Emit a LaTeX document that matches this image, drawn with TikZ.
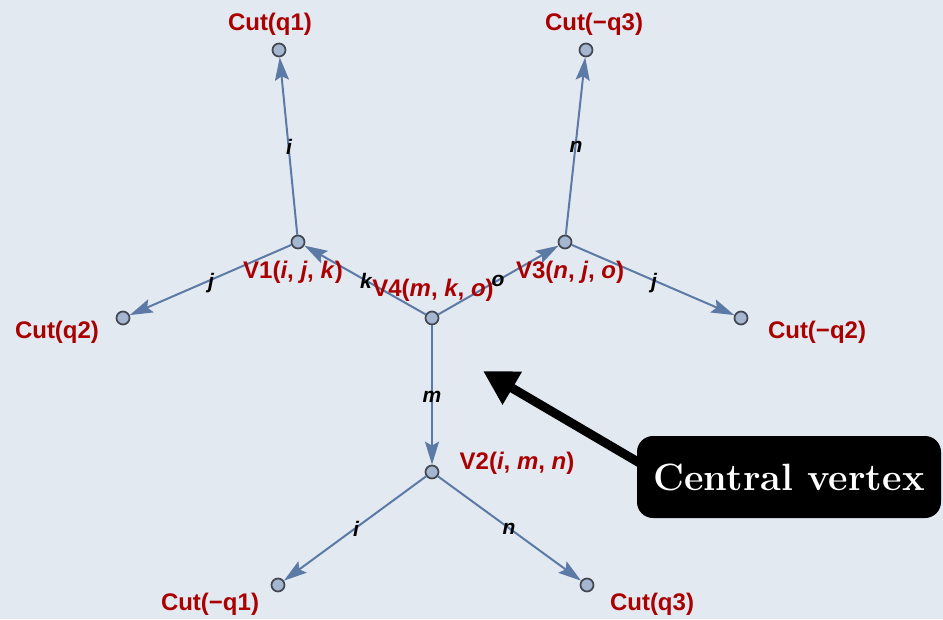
\documentclass[tikz,border=0pt]{standalone}
\usepackage{fontspec}
\newfontfamily\lab{Liberation Sans}
\usetikzlibrary{arrows.meta}
\definecolor{bg}{RGB}{227,233,241}
\definecolor{edgec}{RGB}{92,122,166}
\definecolor{vfill}{RGB}{165,182,208}
\definecolor{vdraw}{RGB}{65,70,80}
\definecolor{lred}{RGB}{170,0,0}
\begin{document}
\begin{tikzpicture}[x=1pt,y=-1pt,
 vtx/.style={circle,draw=vdraw,fill=vfill,line width=1.7pt,minimum size=13pt,inner sep=0pt},
 vlab/.style={text=lred,font=\lab\bfseries\fontsize{24}{24}\selectfont,inner sep=0pt},
 elab/.style={font=\lab\bfseries\itshape\fontsize{21}{21}\selectfont,inner sep=0pt},
 edg/.style={draw=edgec,line width=2pt,-{Stealth[length=23pt,width=14pt,inset=4pt]}}]
\fill[bg] (0,0) rectangle (943,619);
\useasboundingbox (0,0) rectangle (943,619);
% vertices
\node[vtx] (cq1) at (279,50) {};
\node[vtx] (cmq3) at (586,50) {};
\node[vtx] (v1) at (298,242) {};
\node[vtx] (v3) at (565,242) {};
\node[vtx] (v4) at (432,318) {};
\node[vtx] (cq2) at (123,318) {};
\node[vtx] (cmq2) at (741,318) {};
\node[vtx] (v2) at (432,472) {};
\node[vtx] (cmq1) at (278,585) {};
\node[vtx] (cq3) at (587,585) {};
% edges
\draw[edg] (v1) -- (cq1);
\draw[edg] (v1) -- (cq2);
\draw[edg] (v4) -- (v1);
\draw[edg] (v4) -- (v3);
\draw[edg] (v3) -- (cmq3);
\draw[edg] (v3) -- (cmq2);
\draw[edg] (v4) -- (v2);
\draw[edg] (v2) -- (cmq1);
\draw[edg] (v2) -- (cq3);
% edge labels
\node[elab] (l1) at (289,147) {i};
\node[elab] (l2) at (211,283) {j};
\node[elab] (l3) at (366,281) {k};
\node[elab] (l4) at (498,281) {o};
\node[elab] (l5) at (576,147) {n};
\node[elab] (l6) at (654,283) {j};
\node[elab] (l7) at (432,397) {m};
\node[elab] (l8) at (356,529) {i};
\node[elab] (l9) at (509,529) {n};
% vertex labels
\node[vlab] (t1) at (270,24) {Cut(q1)};
\node[vlab] (t2) at (594,24) {Cut(\textminus q3)};
\node[vlab] (t3) at (293,272) {V1(\textit{i}, \textit{j}, \textit{k})};
\node[vlab] (t4) at (570,272) {V3(\textit{n}, \textit{j}, \textit{o})};
\node[vlab] (t5) at (433,290) {V4(\textit{m}, \textit{k}, \textit{o})};
\node[vlab] (t6) at (57,332) {Cut(q2)};
\node[vlab] (t7) at (817,332) {Cut(\textminus q2)};
\node[vlab] (t8) at (517,463) {V2(\textit{i}, \textit{m}, \textit{n})};
\node[vlab] (t9) at (210,604) {Cut(\textminus q1)};
\node[vlab] (t10) at (652,604) {Cut(q3)};
% callout
\coordinate (ctip) at (483,371);
\coordinate (cstart) at (655,472);
\draw[line width=9pt,-{Triangle[length=34pt,width=36pt]}] (cstart) -- (ctip);
\node[fill=black,rounded corners=16pt,text=white,font=\bfseries\fontsize{38}{38}\selectfont,minimum width=304pt,minimum height=82pt,inner sep=0pt] (callout) at (789,477) {Central vertex};
\end{tikzpicture}
\end{document}
